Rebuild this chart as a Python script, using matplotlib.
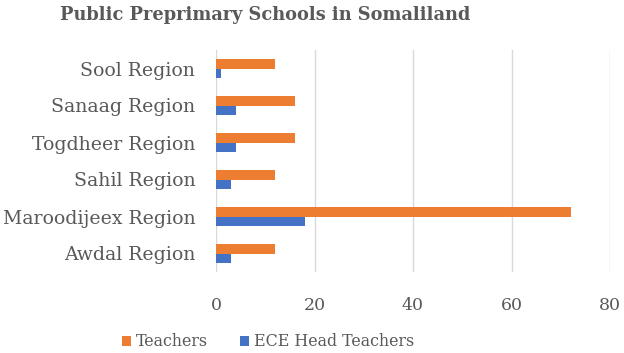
import matplotlib.pyplot as plt
import numpy as np

regions = ['Awdal Region', 'Maroodijeex Region', 'Sahil Region',
           'Togdheer Region', 'Sanaag Region', 'Sool Region']
teachers = [12, 72, 12, 16, 16, 12]
head_teachers = [3, 18, 3, 4, 4, 1]

plt.rcParams['font.family'] = 'DejaVu Serif'
text_col = '#595959'

fig = plt.figure(figsize=(6.24, 3.53), dpi=100)
ax = fig.add_axes([216/624, 1-272/353, 394/624, 222/353])

y = np.arange(len(regions))
h = 0.25
ax.barh(y + h/2, teachers, height=h, color='#ED7D31', label='Teachers', zorder=3)
ax.barh(y - h/2, head_teachers, height=h, color='#4472C4', label='ECE Head Teachers', zorder=3)

ax.set_xlim(0, 80)
ax.set_ylim(-0.5, len(regions) - 0.5)
ax.set_xticks([0, 20, 40, 60, 80])
ax.set_yticks(y)
ax.set_yticklabels(regions)
ax.tick_params(axis='both', length=0, colors=text_col)
ax.tick_params(axis='x', pad=18, labelsize=12.5)
ax.tick_params(axis='y', pad=15, labelsize=13.6)
ax.grid(axis='x', color='#D9D9D9', linewidth=1, zorder=0)
for s in ax.spines.values():
    s.set_visible(False)

fig.text(265/624, 1 - 15/353, 'Public Preprimary Schools in Somaliland', ha='center', va='center',
         fontsize=12.8, fontweight='bold', color=text_col)

ax.legend(loc='center', bbox_to_anchor=(268/624, (353-342)/353), bbox_transform=fig.transFigure,
          ncol=2, frameon=False, fontsize=11.4, labelcolor=text_col,
          handlelength=0.6, handleheight=0.6, handletextpad=0.3, columnspacing=2.0)

fig.savefig('out.png', dpi=100)
